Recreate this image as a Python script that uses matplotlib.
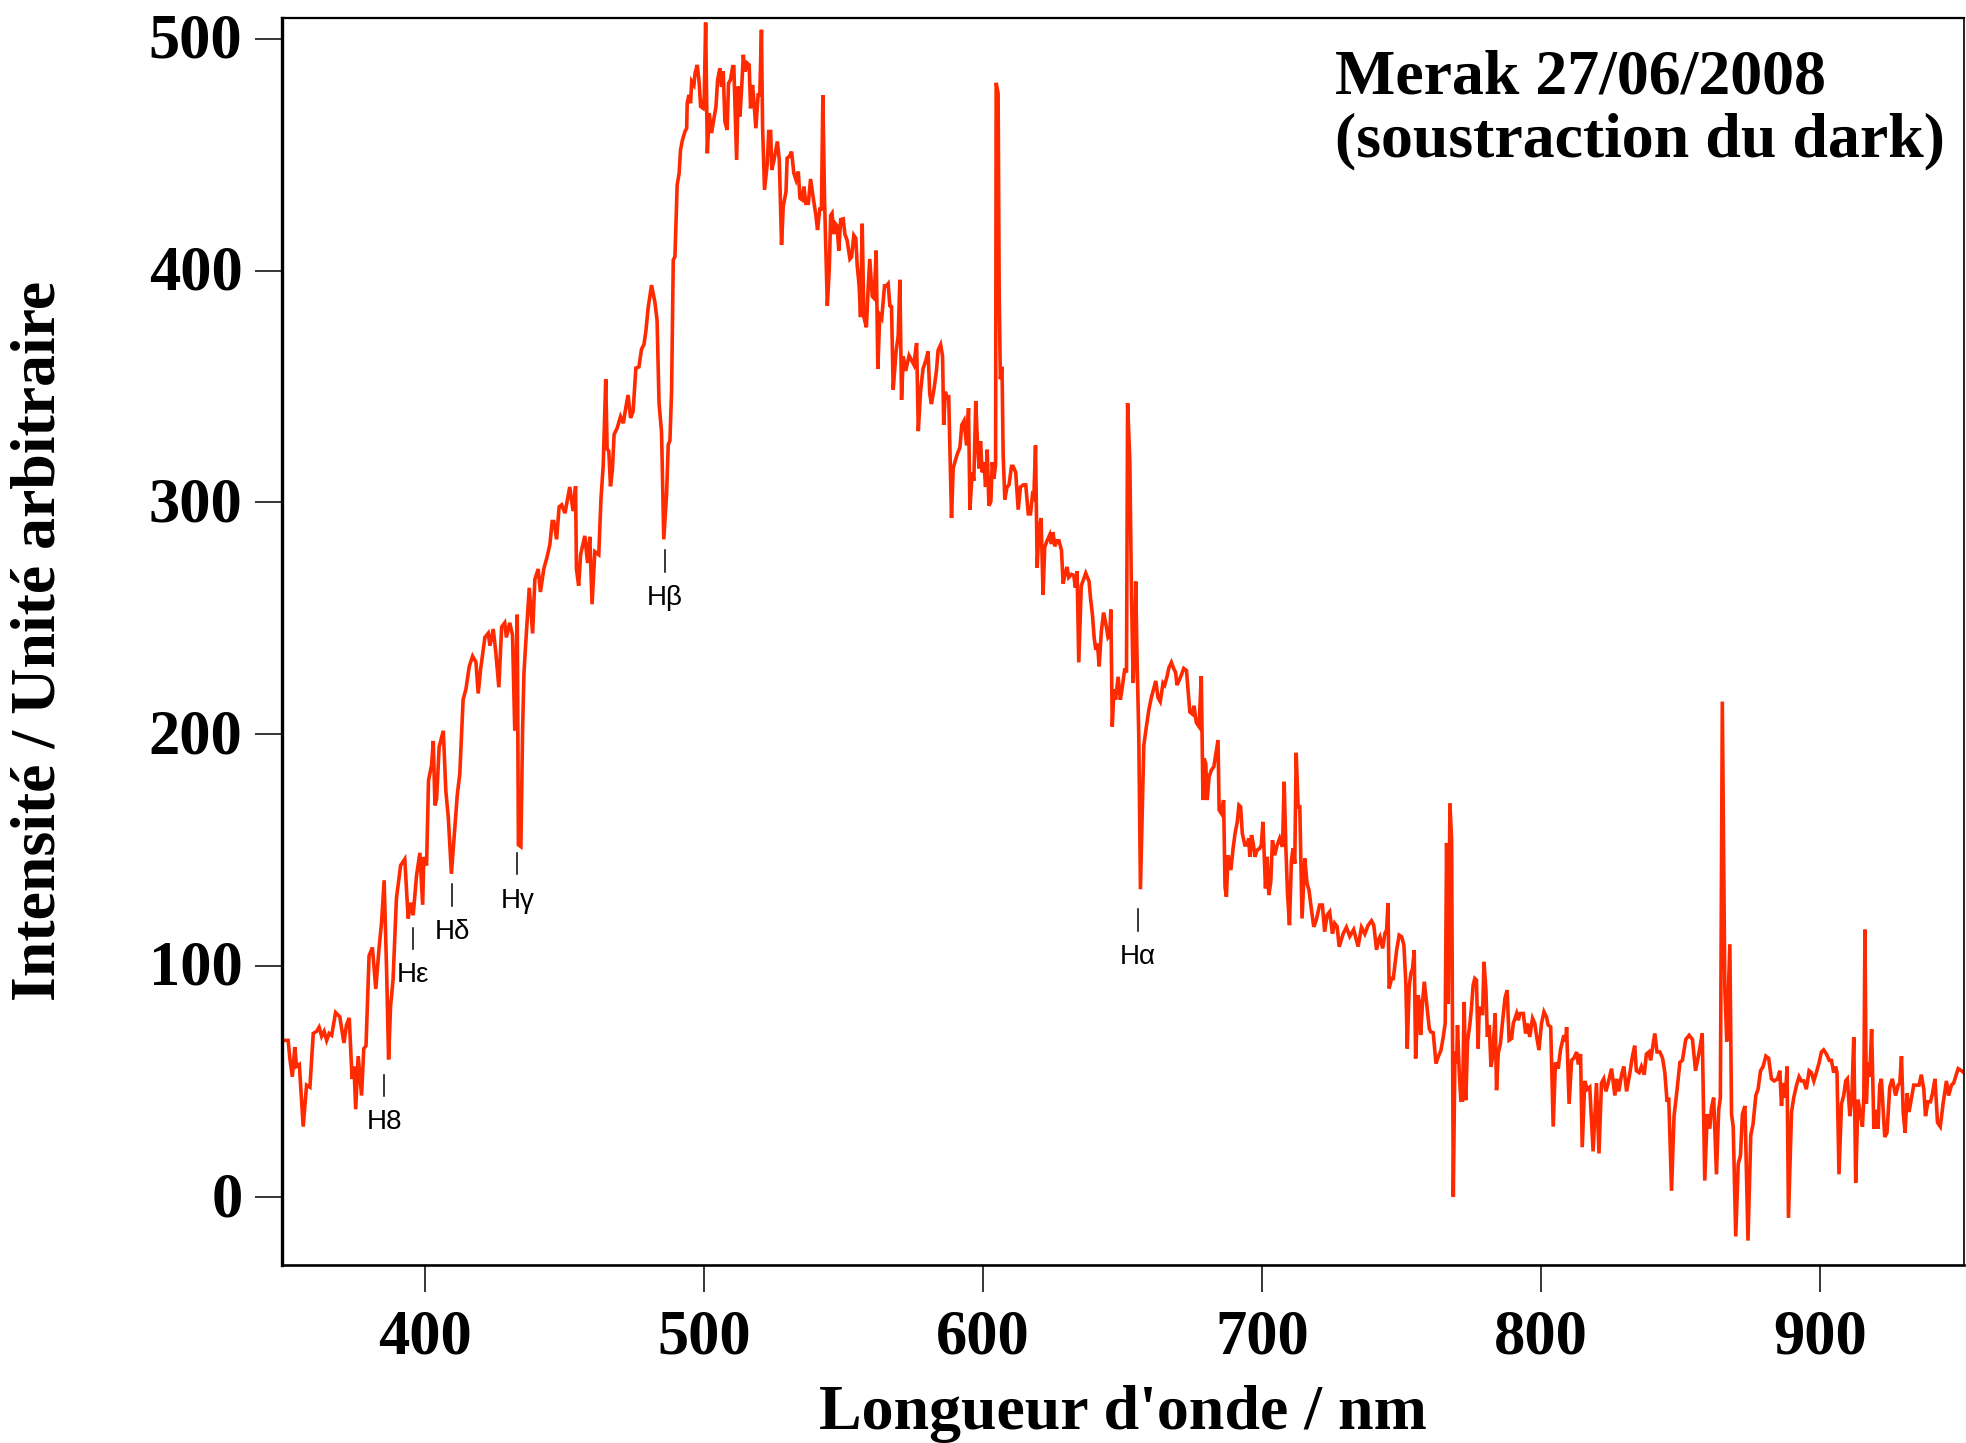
import matplotlib
matplotlib.use("Agg")
import matplotlib.pyplot as plt
import matplotlib.transforms as mtransforms

# ---------------- data ----------------
wavelength = [
    349.8, 351.0, 351.6, 352.5, 353.4, 354.0, 355.0, 356.4, 357.6, 358.8,
    360.0, 361.2, 362.1, 363.0, 363.9, 364.8, 365.7, 366.6, 368.0, 369.5,
    371.0, 371.9, 372.9, 373.9, 374.6, 375.2, 376.1, 377.3, 378.1, 378.9,
    380.0, 381.2, 382.4, 383.6, 384.5, 385.4, 386.3, 387.0, 387.7, 388.6,
    389.8, 391.3, 392.8, 394.0, 394.9, 395.8, 397.0, 398.2, 399.2, 399.6,
    400.6, 401.3, 402.4, 403.0, 403.6, 404.2, 405.1, 406.6, 407.5, 408.4,
    409.5, 410.4, 411.6, 412.5, 413.7, 414.7, 415.9, 417.1, 418.3, 419.1,
    420.0, 421.5, 422.7, 423.3, 424.5, 425.4, 426.5, 427.5, 428.6, 429.2,
    430.4, 431.4, 432.2, 433.1, 433.5, 434.4, 435.0, 435.5, 436.4, 437.4,
    438.6, 439.4, 440.6, 441.4, 442.6, 443.8, 444.8, 445.6, 446.2, 447.2,
    448.1, 449.0, 450.2, 451.9, 453.1, 454.0, 454.3, 455.1, 455.8, 457.3,
    458.3, 459.1, 459.9, 460.9, 462.3, 463.1, 463.9, 464.8, 465.3, 465.9,
    466.5, 467.2, 467.8, 468.9, 470.1, 471.1, 472.0, 472.8, 473.7, 474.6,
    475.6, 476.7, 477.6, 478.5, 479.2, 480.0, 481.2, 482.4, 483.2, 483.9,
    484.8, 485.6, 486.6, 487.2, 487.8, 488.4, 488.8, 489.0, 489.6, 490.4,
    491.1, 491.6, 492.3, 493.2, 493.8, 494.0, 494.6, 495.2, 495.6, 496.4,
    496.8, 497.6, 498.3, 498.8, 499.7, 500.1, 500.6, 501.2, 501.9, 502.7,
    503.3, 504.3, 504.9, 505.7, 506.3, 506.9, 507.5, 508.3, 508.8, 509.5,
    510.3, 510.7, 511.7, 512.3, 512.9, 513.5, 514.1, 514.7, 515.5, 516.2,
    516.7, 517.4, 517.9, 518.6, 519.4, 520.0, 520.6, 521.0, 521.7, 522.7,
    523.2, 523.9, 524.3, 525.1, 526.3, 527.0, 527.8, 528.4, 529.4, 529.8,
    530.6, 531.4, 532.2, 533.0, 533.8, 534.4, 535.2, 535.8, 536.5, 537.4,
    538.2, 539.1, 540.1, 540.7, 541.5, 542.1, 542.6, 543.2, 544.2, 544.9,
    545.4, 545.9, 546.5, 547.1, 547.7, 548.3, 549.0, 549.9, 550.5, 551.3,
    552.3, 552.9, 553.7, 554.4, 554.9, 555.6, 556.1, 556.7, 557.3, 558.2,
    558.8, 559.4, 560.3, 561.0, 561.7, 562.3, 563.0, 563.7, 564.7, 565.4,
    566.0, 566.6, 567.2, 567.8, 568.8, 569.6, 570.2, 570.8, 571.4, 572.3,
    573.5, 574.4, 575.2, 576.2, 576.8, 577.6, 578.5, 579.5, 580.3, 580.9,
    581.5, 582.4, 583.3, 583.9, 584.8, 585.5, 585.9, 586.5, 587.1, 587.7,
    588.7, 589.3, 590.1, 590.8, 591.7, 592.4, 593.2, 594.1, 594.8, 595.3,
    596.1, 596.7, 597.4, 598.0, 598.6, 599.1, 599.7, 600.3, 600.9, 601.5,
    602.1, 602.8, 603.3, 603.9, 604.5, 604.7, 605.4, 605.8, 606.2, 606.8,
    607.2, 607.8, 608.6, 609.3, 610.2, 610.8, 611.7, 612.6, 613.4, 614.4,
    615.3, 616.2, 617.0, 617.7, 618.2, 618.8, 619.4, 620.0, 620.8, 621.5,
    622.1, 622.9, 623.9, 624.5, 625.1, 625.7, 626.5, 627.2, 628.1, 628.7,
    629.3, 630.1, 630.7, 631.7, 632.5, 633.1, 633.7, 634.3, 635.2, 636.8,
    638.0, 638.5, 639.2, 639.8, 640.4, 641.0, 641.6, 642.4, 643.2, 644.2,
    644.8, 645.4, 645.8, 646.3, 646.9, 647.5, 648.4, 649.2, 649.9, 650.8,
    651.4, 651.8, 652.6, 653.2, 653.8, 654.3, 654.7, 655.2, 655.8, 656.4,
    657.0, 657.6, 658.5, 659.4, 660.3, 660.9, 661.9, 662.7, 663.5, 664.5,
    665.1, 665.9, 666.6, 667.5, 668.3, 669.0, 669.5, 670.5, 671.1, 671.9,
    672.9, 673.5, 674.1, 675.0, 675.6, 676.4, 677.4, 678.2, 678.8, 679.2,
    679.8, 680.3, 681.0, 681.8, 682.7, 683.4, 684.2, 684.6, 685.4, 686.2,
    686.7, 687.2, 687.8, 688.8, 689.6, 690.3, 691.1, 691.7, 692.3, 692.9,
    693.8, 694.6, 695.2, 695.6, 696.2, 696.8, 697.4, 698.2, 699.1, 699.7,
    700.3, 701.2, 701.8, 702.4, 703.1, 703.7, 704.5, 705.4, 706.3, 707.3,
    707.9, 708.5, 709.1, 709.8, 710.5, 711.1, 711.7, 712.2, 712.9, 713.5,
    714.3, 715.3, 716.1, 716.8, 717.7, 718.5, 719.4, 720.6, 721.6, 722.4,
    723.3, 724.2, 725.2, 726.0, 726.9, 727.6, 729.0, 730.2, 731.4, 732.8,
    734.4, 735.6, 736.8, 738.0, 739.2, 740.0, 741.0, 741.9, 742.2, 743.2,
    744.0, 744.6, 745.1, 745.5, 746.4, 747.0, 748.2, 749.1, 750.0, 750.8,
    751.5, 752.0, 752.7, 753.3, 753.9, 754.5, 755.0, 755.9, 756.3, 756.8,
    757.5, 758.1, 758.9, 759.9, 760.4, 761.3, 762.3, 763.1, 764.1, 764.9,
    765.6, 766.1, 766.7, 767.3, 767.9, 768.5, 769.1, 769.7, 770.0, 770.6,
    771.2, 771.8, 772.4, 773.0, 773.6, 774.4, 775.0, 775.6, 776.2, 776.8,
    777.4, 777.8, 778.4, 779.0, 779.5, 780.2, 780.7, 781.4, 782.0, 782.6,
    783.5, 784.0, 784.6, 785.4, 786.2, 787.0, 787.8, 788.5, 789.4, 790.0,
    791.2, 791.8, 792.4, 793.6, 794.4, 795.1, 795.9, 796.9, 797.7, 798.3,
    799.2, 800.1, 801.0, 801.9, 802.5, 803.4, 804.3, 805.1, 806.1, 806.9,
    808.1, 808.8, 809.1, 810.0, 810.9, 811.7, 812.7, 813.3, 814.1, 814.7,
    815.6, 816.5, 817.4, 818.6, 819.8, 820.7, 821.6, 822.4, 823.2, 824.0,
    825.2, 826.4, 827.0, 827.8, 828.8, 829.6, 830.6, 831.8, 832.7, 833.5,
    834.1, 835.1, 835.9, 836.9, 837.7, 838.6, 839.2, 839.9, 840.7, 841.5,
    842.5, 843.5, 844.3, 845.1, 845.7, 846.7, 847.6, 848.7, 849.7, 850.6,
    851.8, 853.0, 854.2, 855.3, 856.6, 857.7, 858.6, 859.5, 860.4, 861.0,
    861.8, 862.8, 863.6, 864.2, 864.9, 865.8, 866.5, 867.6, 868.2, 868.8,
    869.7, 870.6, 871.4, 872.1, 873.0, 874.1, 875.1, 875.9, 876.9, 877.7,
    878.6, 879.5, 880.5, 881.5, 882.5, 883.5, 884.7, 885.5, 886.1, 886.7,
    887.5, 888.1, 888.6, 889.7, 890.5, 891.5, 892.4, 893.2, 894.1, 895.0,
    896.0, 896.8, 897.7, 898.6, 899.6, 900.4, 901.2, 902.2, 903.2, 904.0,
    904.8, 905.5, 906.0, 906.7, 907.6, 908.4, 909.1, 909.7, 910.6, 911.3,
    912.0, 912.7, 913.5, 914.4, 915.1, 915.6, 916.0, 916.5, 917.1, 917.7,
    918.4, 919.2, 919.9, 920.7, 921.3, 921.9, 923.1, 923.9, 924.9, 925.8,
    927.0, 927.9, 928.5, 929.1, 929.7, 930.4, 931.1, 931.8, 932.7, 933.5,
    934.4, 935.4, 936.2, 937.1, 937.7, 938.6, 939.5, 940.2, 941.1, 942.0,
    943.0, 944.0, 945.2, 946.0, 947.0, 947.8, 948.5, 949.4, 950.6, 951.4,
]

intensity = [
    67.8, 67.8, 60.1, 52.1, 64.9, 56.6, 57.4, 30.6, 48.5, 47.6,
    70.8, 71.7, 73.5, 69.6, 71.7, 67.8, 70.8, 70.0, 79.8, 78.0,
    66.7, 74.4, 77.5, 51.2, 56.5, 38.1, 61.0, 44.0, 64.2, 65.5,
    104.3, 107.9, 90.0, 107.9, 119.1, 136.9, 96.8, 59.6, 82.5, 94.1,
    129.0, 143.3, 146.0, 120.4, 127.2, 121.8, 138.8, 148.7, 126.3, 146.9,
    143.3, 180.0, 186.6, 197.0, 169.2, 171.9, 194.3, 201.4, 175.5, 163.9,
    139.7, 154.0, 173.7, 182.7, 214.9, 219.3, 229.2, 233.6, 231.0, 217.5,
    228.3, 241.7, 243.5, 238.1, 245.3, 235.4, 220.2, 246.2, 248.0, 241.7,
    248.0, 242.6, 201.4, 251.5, 152.2, 151.4, 201.4, 226.4, 244.3, 263.1,
    243.4, 266.7, 271.2, 261.3, 271.2, 276.5, 281.9, 291.7, 291.7, 284.0,
    298.0, 298.9, 295.3, 306.6, 296.2, 306.9, 271.2, 264.0, 277.4, 285.5,
    273.8, 285.1, 256.0, 278.7, 277.4, 301.6, 315.9, 353.1, 323.0, 322.1,
    306.9, 314.1, 329.3, 332.0, 337.0, 334.1, 340.9, 346.3, 336.4, 339.1,
    357.9, 358.4, 366.0, 368.1, 374.0, 383.9, 393.7, 386.5, 378.5, 342.7,
    330.2, 284.0, 303.3, 324.8, 326.6, 348.1, 387.3, 404.6, 406.0, 437.0,
    442.0, 452.1, 456.4, 460.0, 461.4, 472.2, 475.8, 472.2, 481.6, 480.1,
    485.1, 488.7, 480.8, 470.8, 470.0, 475.1, 507.0, 450.6, 467.9, 459.3,
    463.6, 470.8, 482.3, 487.3, 479.4, 485.9, 464.3, 460.7, 480.8, 482.3,
    488.0, 488.0, 447.7, 479.4, 466.5, 478.7, 493.1, 485.9, 489.5, 488.7,
    470.0, 480.1, 472.9, 461.4, 475.8, 475.8, 503.9, 462.1, 434.8, 446.3,
    460.0, 460.0, 443.4, 447.7, 455.7, 447.7, 411.1, 427.6, 434.1, 448.5,
    449.2, 451.3, 442.0, 439.1, 442.7, 431.2, 430.5, 436.2, 429.0, 429.0,
    439.5, 431.8, 423.8, 417.5, 426.5, 426.5, 475.7, 430.9, 384.8, 400.5,
    423.8, 424.7, 415.7, 420.2, 419.3, 408.6, 422.0, 422.3, 415.7, 413.0,
    405.0, 405.9, 415.2, 413.9, 402.3, 393.4, 379.9, 420.2, 379.9, 375.5,
    391.6, 405.0, 388.9, 388.0, 408.6, 357.6, 380.8, 379.4, 393.4, 393.4,
    394.3, 384.8, 384.4, 348.6, 364.7, 371.9, 396.0, 344.2, 362.9, 356.7,
    363.3, 361.2, 359.4, 368.7, 330.7, 347.7, 357.6, 361.2, 365.1, 346.8,
    342.4, 348.6, 356.7, 365.6, 368.0, 363.0, 333.4, 347.7, 345.1, 345.4,
    293.2, 314.6, 318.2, 320.9, 323.6, 333.4, 335.2, 324.5, 340.6, 296.8,
    312.9, 309.3, 343.6, 325.4, 314.6, 326.3, 312.9, 317.3, 306.6, 322.7,
    298.5, 300.3, 317.3, 310.2, 316.4, 481.0, 476.5, 388.0, 353.1, 358.5,
    320.9, 301.2, 306.6, 307.5, 315.5, 315.5, 312.9, 296.8, 306.6, 307.5,
    307.5, 295.0, 295.0, 303.0, 302.1, 324.5, 271.7, 287.8, 293.2, 260.1,
    280.7, 283.3, 286.0, 282.0, 287.0, 281.0, 283.4, 283.4, 279.3, 264.9,
    268.5, 272.1, 267.6, 268.9, 268.5, 263.1, 270.3, 230.9, 264.0, 269.4,
    265.8, 258.7, 251.5, 241.7, 236.3, 239.0, 229.2, 244.4, 252.4, 246.2,
    241.7, 242.6, 253.7, 203.2, 219.3, 214.8, 224.7, 214.8, 220.2, 228.3,
    226.5, 342.8, 317.7, 258.7, 222.0, 238.1, 265.8, 231.8, 199.6, 133.0,
    165.0, 195.0, 203.0, 210.4, 215.7, 218.4, 222.9, 215.7, 214.0, 222.0,
    221.1, 224.7, 228.6, 230.9, 228.3, 226.5, 221.1, 223.8, 225.6, 228.3,
    227.4, 218.4, 209.5, 208.6, 212.2, 205.0, 203.2, 225.0, 171.5, 189.5,
    187.3, 171.5, 181.5, 184.4, 185.9, 191.3, 197.4, 167.2, 165.7, 171.5,
    134.1, 129.8, 147.7, 141.3, 150.6, 157.1, 162.1, 169.3, 168.6, 157.1,
    152.1, 152.1, 155.0, 147.0, 156.4, 152.8, 147.0, 149.9, 150.6, 152.1,
    162.1, 133.4, 147.0, 130.5, 136.2, 154.2, 147.7, 152.1, 155.0, 151.3,
    179.4, 151.3, 131.2, 117.5, 145.6, 150.6, 144.1, 191.9, 168.6, 168.6,
    120.4, 146.3, 135.5, 132.6, 124.0, 116.8, 119.7, 126.2, 126.2, 114.7,
    121.9, 123.3, 113.9, 118.3, 116.8, 108.2, 113.7, 116.6, 112.7, 115.6,
    108.3, 116.6, 113.7, 117.5, 119.4, 117.5, 106.9, 111.7, 112.5, 107.5,
    114.0, 115.4, 126.9, 90.2, 94.5, 94.5, 106.7, 113.2, 112.5, 108.9,
    92.4, 64.3, 90.9, 96.7, 98.8, 106.7, 60.0, 87.3, 84.4, 70.1,
    84.4, 93.1, 84.4, 72.9, 71.5, 71.1, 57.8, 60.7, 63.6, 69.3,
    75.1, 153.0, 83.7, 170.0, 154.0, 0.3, 62.9, 57.8, 74.4, 55.0,
    42.0, 42.0, 84.4, 42.0, 67.2, 74.4, 81.6, 91.6, 94.5, 93.8,
    64.3, 82.3, 79.4, 79.4, 101.7, 89.5, 69.3, 74.4, 56.4, 60.7,
    79.4, 46.3, 62.2, 66.5, 76.5, 85.9, 89.5, 67.9, 68.6, 75.1,
    79.4, 76.5, 79.4, 79.4, 70.8, 75.1, 69.3, 77.3, 75.1, 70.0,
    63.6, 75.1, 80.1, 77.9, 74.4, 73.6, 30.6, 58.3, 55.6, 63.7,
    70.0, 67.3, 73.5, 40.4, 59.2, 60.1, 62.8, 57.4, 61.9, 21.7,
    50.3, 46.7, 47.6, 19.9, 49.4, 19.0, 49.4, 51.2, 45.8, 49.4,
    55.6, 44.0, 51.2, 45.8, 53.0, 56.5, 45.8, 53.9, 61.0, 65.5,
    54.7, 53.9, 56.5, 53.0, 61.9, 62.8, 59.2, 64.6, 70.8, 62.8,
    62.8, 60.1, 53.9, 41.3, 43.1, 2.9, 35.1, 46.7, 58.3, 59.2,
    68.2, 70.0, 68.2, 54.7, 62.8, 70.8, 7.3, 36.0, 29.7, 38.6,
    43.1, 10.0, 37.8, 43.1, 214.0, 89.6, 67.3, 109.3, 36.0, 30.6,
    -16.8, 14.5, 18.1, 36.0, 39.5, -18.6, 27.0, 31.5, 44.0, 46.7,
    54.7, 56.5, 61.0, 60.1, 51.2, 50.3, 51.2, 54.7, 39.5, 49.4,
    43.1, 56.5, -8.8, 36.9, 43.1, 48.5, 52.1, 50.3, 50.3, 46.7,
    54.7, 53.9, 50.3, 53.9, 58.3, 62.8, 63.7, 61.9, 59.2, 59.2,
    53.9, 56.5, 53.9, 10.0, 40.4, 44.0, 50.3, 51.2, 35.1, 43.1,
    69.1, 6.4, 42.2, 36.0, 30.6, 43.1, 115.6, 40.4, 58.3, 52.1,
    72.6, 29.7, 37.8, 29.7, 48.5, 51.2, 26.1, 27.9, 47.6, 51.2,
    44.0, 48.5, 49.4, 61.0, 36.9, 27.9, 44.9, 36.9, 43.1, 48.5,
    48.5, 48.5, 53.0, 46.7, 35.1, 41.3, 41.3, 44.9, 51.2, 32.4,
    30.6, 40.4, 50.3, 44.0, 48.5, 49.4, 52.1, 55.6, 54.7, 53.9,
]

line_names = ["H8", "H\u03b5", "H\u03b4", "H\u03b3", "H\u03b2", "H\u03b1"]
line_wl = [385.4, 395.8, 409.7, 433.1, 486.0, 655.6]
line_top = [53.0, 116.5, 135.3, 148.7, 279.2, 124.5]

x_ticks = [400, 500, 600, 700, 800, 900]
y_ticks = [0, 100, 200, 300, 400, 500]

title_lines = ["Merak 27/06/2008", "(soustraction du dark)"]
x_label = "Longueur d'onde / nm"
y_label = "Intensit\u00e9 / Unit\u00e9 arbitraire"

# ---------------- figure ----------------
W, H = 1966, 1443
fig = plt.figure(figsize=(W / 100, H / 100), dpi=100)
ax = fig.add_axes([282 / W, 1 - 1265.4 / H, (1964 - 282) / W, (1265.4 - 18.4) / H])

serif = ["Liberation Serif", "DejaVu Serif"]
sans = ["Liberation Sans", "DejaVu Sans"]

ax.plot(wavelength, intensity, color="#ff2a00", lw=2.6, solid_joinstyle="miter")

ax.set_xlim(348.8, 951.5)
ax.set_ylim(-29.3, 508.8)
ax.set_xticks(x_ticks)
ax.set_yticks(y_ticks)
ax.set_xticklabels([str(v) for v in x_ticks], fontfamily=serif, fontweight="bold", fontsize=45)
ax.set_yticklabels([str(v) for v in y_ticks], fontfamily=serif, fontweight="bold", fontsize=45)
ax.tick_params(axis="both", direction="out", length=19.5, width=1.1, color="black")
ax.tick_params(axis="x", pad=12)
ax.tick_params(axis="y", pad=9)

# nudge y tick labels up a little, as in the reference
offset = mtransforms.ScaledTranslation(0, 3 / 100, fig.dpi_scale_trans)
for lab in ax.get_yticklabels():
    lab.set_transform(lab.get_transform() + offset)

ax.spines["left"].set_linewidth(2.4)
ax.spines["bottom"].set_linewidth(1.9)
ax.spines["top"].set_linewidth(1.6)
ax.spines["right"].set_linewidth(1.2)

# Balmer line markers
for name, wl, top in zip(line_names, line_wl, line_top):
    ax.plot([wl, wl], [top, top - 9.3], color="black", lw=1.1)
    ax.text(wl, top - 9.3 - 14.3, name, ha="center", va="baseline",
            fontfamily=sans, fontsize=20, color="black")

# title block
fig.text(1335 / W, 1 - 94 / H, title_lines[0], ha="left", va="baseline",
         fontfamily=serif, fontweight="bold", fontsize=46)
fig.text(1335 / W, 1 - 156 / H, title_lines[1], ha="left", va="baseline",
         fontfamily=serif, fontweight="bold", fontsize=46)

# axis labels
fig.text(1123 / W, 1 - 1429 / H, x_label, ha="center", va="baseline",
         fontfamily=serif, fontweight="bold", fontsize=46)
fig.text(40 / W, 1 - 641 / H, y_label, ha="center", va="center", rotation=90,
         fontfamily=serif, fontweight="bold", fontsize=46)

fig.savefig("out.png", dpi=100)
